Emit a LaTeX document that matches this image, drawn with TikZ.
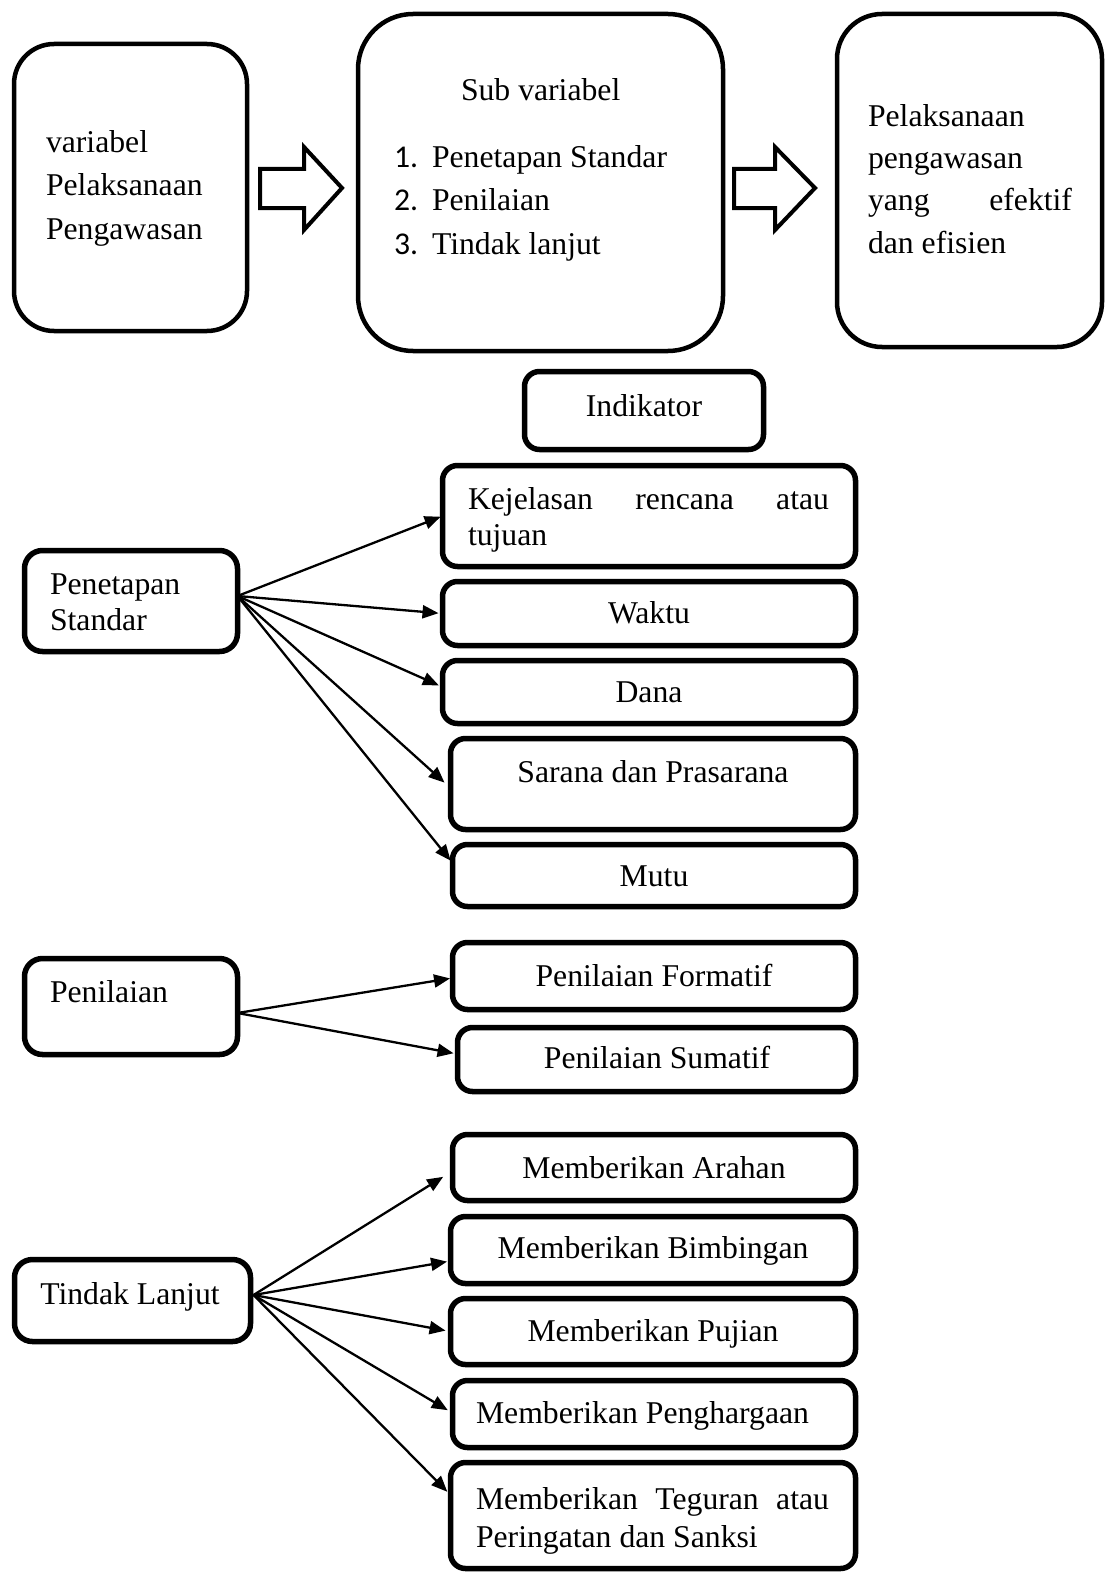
\documentclass[tikz,border=0pt]{standalone}
\usepackage{fontspec}
\setmainfont{Liberation Serif}
\newfontfamily\calib{Carlito}
\usetikzlibrary{arrows.meta,fit}
\begin{document}
\begin{tikzpicture}[x=1pt,y=-1pt,
  every node/.style={inner sep=0pt, outer sep=0pt},
  T/.style={font=\fontsize{31.7}{38}\selectfont, anchor=base west},
  TC/.style={font=\fontsize{31.7}{38}\selectfont, anchor=base},
  bigbox/.style={draw, line width=4.5pt, rounded corners=#1},
  smallbox/.style={draw, line width=5.5pt, rounded corners=15pt},
  conn/.style={line width=2.3pt, -{Triangle[length=16pt,width=13pt]}},
  blockarrow/.style={draw, line width=4pt, line join=miter}
]
\useasboundingbox (0,0) rectangle (1106,1573);

% ---------- top row ----------
\node[bigbox=40pt, fit={(14,44) (247,331)}] (A) {};
\node[bigbox=55pt, fit={(358,14) (723,351)}] (B) {};
\node[bigbox=45pt, fit={(837,14) (1102,347)}] (C) {};

\node[T] (a1) at (46,153) {variabel};
\node[T] (a2) at (46,196) {Pelaksanaan};
\node[T] (a3) at (46,239) {Pengawasan};

\node[T] (b0) at (461,101) {Sub variabel};
\node[T] (b1n) at (394,168) {\calib 1.};
\node[T] (b1) at (432,168) {Penetapan Standar};
\node[T] (b2n) at (394,211) {\calib 2.};
\node[T] (b2) at (432,211) {Penilaian};
\node[T] (b3n) at (394,254) {\calib 3.};
\node[T] (b3) at (432,254) {Tindak lanjut};

\node[T] (c1) at (868,127) {Pelaksanaan};
\node[T] (c2) at (868,169) {pengawasan};
\node[T] (c3) at (868,211) {\hbox to 204pt{yang\hfill efektif}};
\node[T] (c4) at (868,253) {dan efisien};

% block arrows
\draw[blockarrow] (260,169) -- (304,169) -- (304,147) -- (342,188) -- (304,230) -- (304,208) -- (260,208) -- cycle;
\draw[blockarrow] (734,169) -- (775,169) -- (775,147) -- (815,188) -- (775,230) -- (775,208) -- (734,208) -- cycle;

% ---------- indikator ----------
\node[smallbox, fit={(524.5,371.5) (763.5,449.5)}] (ind) {};
\node[TC] (indt) at (644,416) {Indikator};

% ---------- Penetapan Standar ----------
\node[smallbox, rounded corners=18pt, fit={(24.5,550.5) (237.5,651.5)}] (ps) {};
\node[T] (ps1) at (50,594) {Penetapan};
\node[T] (ps2) at (50,630) {Standar};

\node[smallbox, fit={(442.5,465.5) (855.5,566.5)}] (k1) {};
\node[smallbox, fit={(442.5,581.5) (855.5,645.5)}] (k2) {};
\node[smallbox, fit={(442.5,660.5) (855.5,723.5)}] (k3) {};
\node[smallbox, fit={(450.5,738.5) (855.5,829.5)}] (k4) {};
\node[smallbox, fit={(452.5,844.5) (855.5,906.5)}] (k5) {};

\node[T] (k1a) at (468,509) {\hbox to 361pt{Kejelasan\hfill rencana\hfill atau}};
\node[T] (k1b) at (468,545) {tujuan};
\node[TC] (k2t) at (649,623) {Waktu};
\node[TC] (k3t) at (649,702) {Dana};
\node[TC] (k4t) at (653,782) {Sarana dan Prasarana};
\node[TC] (k5t) at (654,886) {Mutu};

\coordinate (psO) at ([yshift=5pt]ps.east);
\draw[conn, shorten >=2pt] (psO) -- (k1.west);
\draw[conn, shorten >=4pt] (psO) -- (k2.west);
\draw[conn, shorten >=4pt] (psO) -- ([yshift=5pt]k3.west);
\draw[conn, shorten >=8pt] (psO) -- ([yshift=-4pt]k4.west);
\draw[conn, shorten >=3pt] (psO) -- ([yshift=12.5pt]k5.west);

% ---------- Penilaian ----------
\node[smallbox, rounded corners=18pt, fit={(24.5,958.5) (237.5,1054.5)}] (pn) {};
\node[T] (pnt) at (50,1002) {Penilaian};

\node[smallbox, fit={(452.5,942.5) (855.5,1009.5)}] (f1) {};
\node[smallbox, fit={(457.5,1027.5) (855.5,1091.5)}] (f2) {};
\node[TC] (f1t) at (654,986) {Penilaian Formatif};
\node[TC] (f2t) at (657,1068) {Penilaian Sumatif};

\coordinate (pnO) at ([yshift=-6.5pt]pn.east);
\draw[conn, shorten >=2.5pt] (pnO) -- ([yshift=-2pt]f1.west);
\draw[conn, shorten >=4pt] (pnO) -- ([yshift=5.5pt]f2.west);

% ---------- Tindak Lanjut ----------
\node[smallbox, rounded corners=18pt, fit={(14.5,1259.5) (250.5,1341.5)}] (tl) {};
\node[TC] (tlt) at (130,1304) {Tindak Lanjut};

\node[smallbox, fit={(452.5,1134.5) (855.5,1200.5)}] (t1) {};
\node[smallbox, fit={(450.5,1216.5) (855.5,1283.5)}] (t2) {};
\node[smallbox, fit={(450.5,1298.5) (855.5,1364.5)}] (t3) {};
\node[smallbox, fit={(452.5,1380.5) (855.5,1447.5)}] (t4) {};
\node[smallbox, fit={(450.5,1462.5) (855.5,1568.5)}] (t5) {};

\node[TC] (t1t) at (654,1178) {Memberikan Arahan};
\node[TC] (t2t) at (653,1258) {Memberikan Bimbingan};
\node[TC] (t3t) at (653,1341) {Memberikan Pujian};
\node[T] (t4t) at (476,1423) {Memberikan Penghargaan};
\node[T] (t5a) at (476,1509) {\hbox to 353pt{Memberikan\hfill Teguran\hfill atau}};
\node[T] (t5b) at (476,1547) {Peringatan dan Sanksi};

\coordinate (tlO) at ([xshift=3pt,yshift=5.5pt]tl.east);
\draw[conn, shorten >=11pt] (tlO) -- ([yshift=-3.5pt]t1.west);
\draw[conn, shorten >=3.5pt] (tlO) -- ([yshift=-11pt]t2.west);
\draw[conn, shorten >=5pt] (tlO) -- (t3.west);
\draw[conn, shorten >=5.5pt] (tlO) -- ([yshift=1pt]t4.west);
\draw[conn, shorten >=4.5pt] (tlO) -- ([yshift=20.5pt]t5.west);
\end{tikzpicture}
\end{document}
